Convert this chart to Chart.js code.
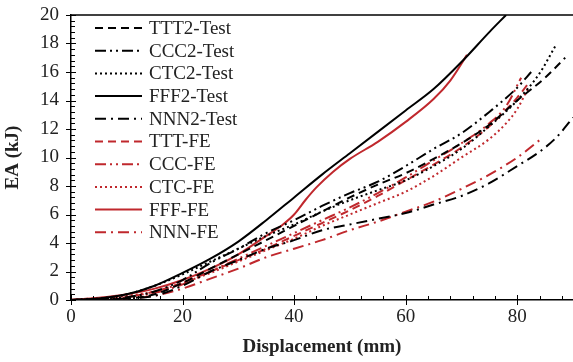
<!DOCTYPE html>
<html>
<head>
<meta charset="utf-8">
<script src="https://cdn.jsdelivr.net/npm/chart.js@4.4.1/dist/chart.umd.min.js"></script>
<style>
  html, body { margin: 0; padding: 0; background: #fff; }
  #wrap { width: 573px; height: 362px; }
</style>
</head>
<body>
<div id="wrap"><canvas id="eaChart" width="573" height="362"></canvas></div>
<script>
// series names (legend order)
const seriesNames = ['TTT2-Test', 'CCC2-Test', 'CTC2-Test', 'FFF2-Test', 'NNN2-Test',
                     'TTT-FE', 'CCC-FE', 'CTC-FE', 'FFF-FE', 'NNN-FE'];

// displacement (mm) / EA (kJ)
const tttTestX = [0, 10, 15, 20, 25, 30, 35, 40, 45, 50, 55, 60, 65, 70, 75, 80, 85, 88.6];
const tttTestY = [0, 0.1, 0.4, 1.2, 2.2, 3.2, 4.2, 5.2, 6.2, 7.2, 8.1, 8.9, 9.9, 11.0, 12.3, 14.0, 15.6, 17.0];

const cccTestX = [0, 10, 15, 20, 25, 30, 35, 40, 45, 50, 55, 60, 65, 70, 75, 80, 82.5];
const cccTestY = [0, 0.2, 0.6, 1.4, 2.6, 3.6, 4.7, 5.6, 6.6, 7.5, 8.3, 9.4, 10.6, 11.7, 13.2, 14.9, 16.0];

const ctcTestX = [0, 5, 10, 15, 20, 25, 30, 35, 40, 45, 50, 55, 60, 65, 70, 75, 80, 84, 86.8];
const ctcTestY = [0, 0.1, 0.4, 1.0, 1.8, 2.7, 3.6, 4.5, 5.3, 6.2, 7.0, 7.7, 8.4, 9.4, 10.6, 12.2, 14.0, 15.9, 17.8];

const fffTestX = [0, 5, 10, 15, 20, 25, 30, 35, 40, 45, 50, 55, 60, 65, 70, 75, 78];
const fffTestY = [0, 0.1, 0.4, 1.0, 1.9, 2.9, 4.1, 5.6, 7.2, 8.8, 10.3, 11.8, 13.3, 14.8, 16.7, 18.8, 20.0];

const nnnTestX = [0, 10, 15, 20, 25, 30, 35, 40, 45, 50, 55, 60, 65, 70, 75, 80, 84, 87, 90];
const nnnTestY = [0, 0.1, 0.3, 1.0, 2.0, 2.8, 3.6, 4.2, 4.9, 5.3, 5.7, 6.1, 6.7, 7.3, 8.2, 9.4, 10.4, 11.4, 12.8];

const tttFeX = [0, 10, 15, 20, 25, 30, 35, 40, 45, 50, 55, 60, 65, 70, 75, 80, 82];
const tttFeY = [0, 0.2, 0.6, 1.2, 2.0, 2.8, 3.6, 4.5, 5.4, 6.3, 7.3, 8.4, 9.5, 10.7, 12.2, 14.2, 15.2];

const cccFeX = [0, 10, 15, 20, 25, 30, 35, 40, 45, 50, 55, 60, 65, 70, 75, 78, 80.7];
const cccFeY = [0, 0.2, 0.5, 1.1, 2.0, 2.9, 3.8, 4.7, 5.6, 6.5, 7.5, 8.6, 9.8, 11.0, 12.4, 13.6, 15.6];

const ctcFeX = [0, 10, 15, 20, 25, 30, 35, 40, 45, 50, 55, 60, 65, 70, 75, 78, 80, 82];
const ctcFeY = [0, 0.3, 0.6, 1.2, 1.9, 2.7, 3.5, 4.3, 5.2, 6.0, 6.8, 7.6, 8.7, 10.0, 11.3, 12.4, 13.4, 14.9];

const fffFeX = [0, 5, 10, 15, 20, 25, 30, 35, 38, 40, 42, 44, 47, 50, 55, 60, 65, 68, 71];
const fffFeY = [0, 0.15, 0.4, 0.8, 1.4, 2.2, 3.2, 4.5, 5.3, 6.0, 7.0, 7.9, 9.0, 9.9, 11.1, 12.5, 14.1, 15.4, 17.2];

const nnnFeX = [0, 10, 15, 20, 25, 30, 35, 40, 45, 50, 55, 60, 65, 70, 75, 80, 84.6];
const nnnFeY = [0, 0.1, 0.3, 0.8, 1.5, 2.2, 3.0, 3.6, 4.2, 4.9, 5.5, 6.2, 6.9, 7.8, 8.8, 10.0, 11.4];

const yTicks = [0, 2, 4, 6, 8, 10, 12, 14, 16, 18, 20];
const xTicks = [0, 20, 40, 60, 80];

const allX = [tttTestX, cccTestX, ctcTestX, fffTestX, nnnTestX, tttFeX, cccFeX, ctcFeX, fffFeX, nnnFeX];
const allY = [tttTestY, cccTestY, ctcTestY, fffTestY, nnnTestY, tttFeY, cccFeY, ctcFeY, fffFeY, nnnFeY];

const BLACK = '#000000';
const RED = '#c0282d';
const dashes = {
    TTT: [8, 5],
    CCC: [11, 4, 2, 4, 2, 4],
    CTC: [2, 3],
    FFF: [],
    NNN: [11, 5, 2, 5]
};

function toPoints(xs, ys) {
    return xs.map((x, i) => ({ x: x, y: ys[i] }));
}

const datasets = seriesNames.map((name, i) => {
    const key = name.slice(0, 3);
    return {
        label: name,
        data: toPoints(allX[i], allY[i]),
        borderColor: name.endsWith('FE') ? RED : BLACK,
        borderWidth: 2,
        borderDash: dashes[key],
        pointRadius: 0,
        cubicInterpolationMode: 'monotone',
        fill: false
    };
});

// legend, frame line and tick marks drawn inside the chart area
const framePlugin = {
    id: 'frame',
    afterDraw(chart) {
        const c = chart.ctx;
        const area = chart.chartArea;
        const xs = chart.scales.x;
        const ys = chart.scales.y;
        c.save();
        c.strokeStyle = '#000';
        c.lineWidth = 1.5;
        c.setLineDash([]);
        // top line
        c.beginPath();
        c.moveTo(area.left, area.top);
        c.lineTo(area.right, area.top);
        c.stroke();
        // x ticks
        c.lineWidth = 1;
        for (let v = 0; v <= 90; v += 4) {
            const px = Math.round(xs.getPixelForValue(v)) + 0.5;
            const major = v % 20 === 0;
            c.beginPath();
            c.moveTo(px, area.bottom - (major ? 5 : 4));
            c.lineTo(px, area.bottom + (major ? 5 : 0));
            c.stroke();
        }
        // y ticks
        for (let k = 0; k <= 50; k++) {
            const v = k * 0.4;
            const py = Math.round(ys.getPixelForValue(v)) + 0.5;
            const major = k % 5 === 0;
            c.beginPath();
            c.moveTo(area.left - (major ? 5 : 0), py);
            c.lineTo(area.left + (major ? 5 : 4), py);
            c.stroke();
        }
        // legend
        c.font = '19px "Liberation Serif", "Times New Roman", serif';
        c.textBaseline = 'middle';
        c.fillStyle = '#222';
        chart.data.datasets.forEach((ds, i) => {
            const y = 28 + i * 22.7;
            c.strokeStyle = ds.borderColor;
            c.lineWidth = 2;
            c.setLineDash(ds.borderDash || []);
            c.beginPath();
            c.moveTo(95, y);
            c.lineTo(142, y);
            c.stroke();
            c.fillText(ds.label, 149, y + 1);
        });
        c.restore();
    }
};

const tickFont = { family: '"Liberation Serif", "Times New Roman", serif', size: 19 };
const titleFont = { family: '"Liberation Serif", "Times New Roman", serif', size: 19, weight: 'bold' };

new Chart(document.getElementById('eaChart').getContext('2d'), {
    type: 'line',
    data: { datasets: datasets },
    options: {
        responsive: false,
        animation: false,
        layout: { padding: { top: 15, right: 0, left: 0, bottom: 0 } },
        plugins: { legend: { display: false }, tooltip: { enabled: false } },
        scales: {
            x: {
                type: 'linear',
                min: 0,
                max: 90,
                afterBuildTicks: s => { s.ticks = xTicks.map(v => ({ value: v })); },
                afterFit: s => { s.height = 62; s.paddingLeft = 0; s.paddingRight = 0; },
                ticks: { font: tickFont, color: '#222', padding: 6, maxRotation: 0 },
                grid: { display: true, drawOnChartArea: false, drawTicks: false },
                border: { display: true, color: '#000', width: 1.5 },
                title: { display: true, text: 'Displacement (mm)', font: titleFont, color: '#222', padding: { top: 4 } }
            },
            y: {
                type: 'linear',
                min: 0,
                max: 20,
                afterBuildTicks: s => { s.ticks = yTicks.map(v => ({ value: v })); },
                afterFit: s => { s.width = 71; s.paddingTop = 0; s.paddingBottom = 0; },
                ticks: { font: tickFont, color: '#222', padding: 12 },
                grid: { display: true, drawOnChartArea: false, drawTicks: false },
                border: { display: true, color: '#000', width: 1.5 },
                title: { display: true, text: 'EA (kJ)', font: titleFont, color: '#222', padding: { top: 2, bottom: 4 } }
            }
        }
    },
    plugins: [framePlugin]
});
</script>
</body>
</html>
